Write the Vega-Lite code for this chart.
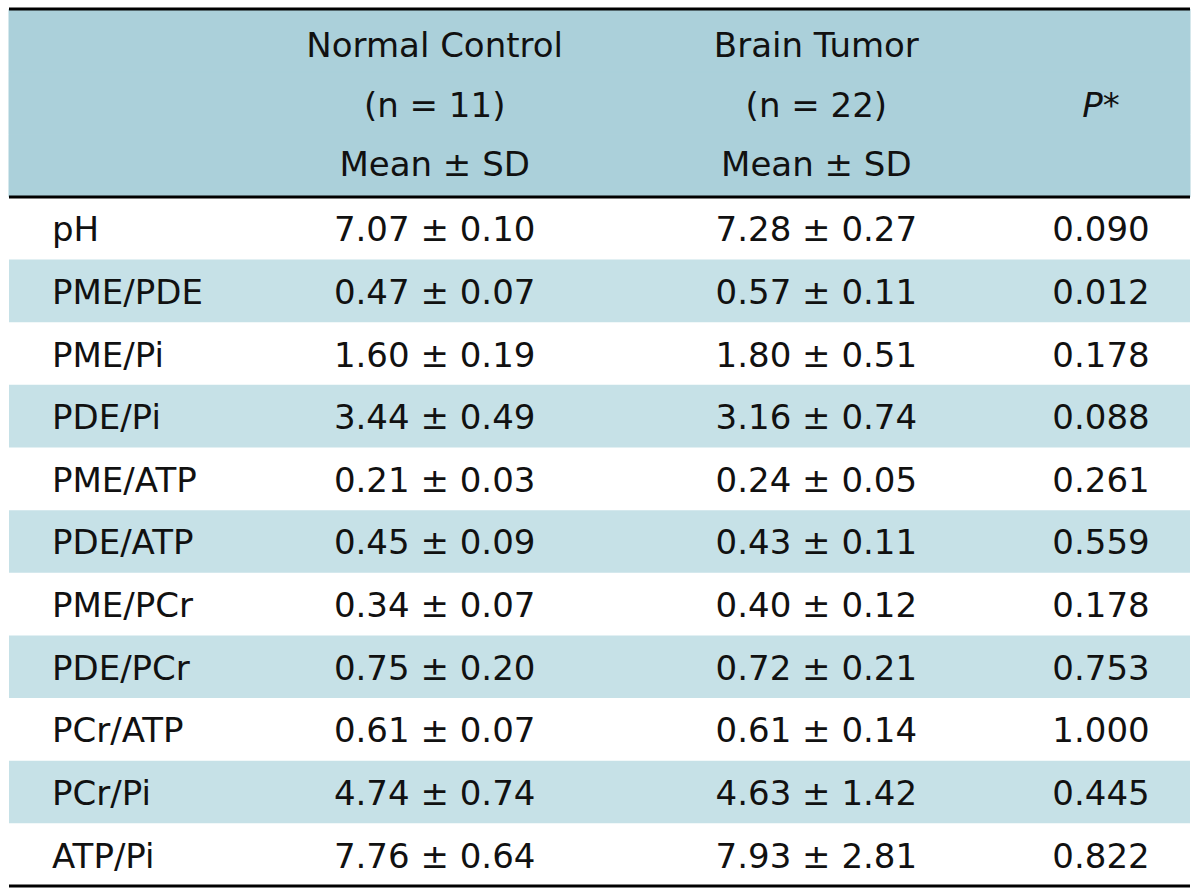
{
  "$schema": "https://vega.github.io/schema/vega-lite/v6.json",
  "width": 1181,
  "height": 877,
  "autosize": "none",
  "padding": {"left": 9, "top": 9, "right": 10, "bottom": 10},
  "background": "white",
  "config": {"view": {"stroke": null}, "text": {"font": "DejaVu Sans", "fontSize": 34, "color": "#111111"}},
  "datasets": {
    "body": [
      {"Variable": "pH", "Normal Control": "7.07 ± 0.10", "Brain Tumor": "7.28 ± 0.27", "P": "0.090"},
      {"Variable": "PME/PDE", "Normal Control": "0.47 ± 0.07", "Brain Tumor": "0.57 ± 0.11", "P": "0.012"},
      {"Variable": "PME/Pi", "Normal Control": "1.60 ± 0.19", "Brain Tumor": "1.80 ± 0.51", "P": "0.178"},
      {"Variable": "PDE/Pi", "Normal Control": "3.44 ± 0.49", "Brain Tumor": "3.16 ± 0.74", "P": "0.088"},
      {"Variable": "PME/ATP", "Normal Control": "0.21 ± 0.03", "Brain Tumor": "0.24 ± 0.05", "P": "0.261"},
      {"Variable": "PDE/ATP", "Normal Control": "0.45 ± 0.09", "Brain Tumor": "0.43 ± 0.11", "P": "0.559"},
      {"Variable": "PME/PCr", "Normal Control": "0.34 ± 0.07", "Brain Tumor": "0.40 ± 0.12", "P": "0.178"},
      {"Variable": "PDE/PCr", "Normal Control": "0.75 ± 0.20", "Brain Tumor": "0.72 ± 0.21", "P": "0.753"},
      {"Variable": "PCr/ATP", "Normal Control": "0.61 ± 0.07", "Brain Tumor": "0.61 ± 0.14", "P": "1.000"},
      {"Variable": "PCr/Pi", "Normal Control": "4.74 ± 0.74", "Brain Tumor": "4.63 ± 1.42", "P": "0.445"},
      {"Variable": "ATP/Pi", "Normal Control": "7.76 ± 0.64", "Brain Tumor": "7.93 ± 2.81", "P": "0.822"}
    ],
    "header": [
      {"r": "h1", "col": "Normal Control", "t": "Normal Control"},
      {"r": "h2", "col": "Normal Control", "t": "(n = 11)"},
      {"r": "h3", "col": "Normal Control", "t": "Mean ± SD"},
      {"r": "h1", "col": "Brain Tumor", "t": "Brain Tumor"},
      {"r": "h2", "col": "Brain Tumor", "t": "(n = 22)"},
      {"r": "h3", "col": "Brain Tumor", "t": "Mean ± SD"},
      {"r": "h2", "col": "P", "t": "P*"}
    ]
  },
  "layer": [
    {
      "data": {"values": [{"r": "h1"}, {"r": "h2"}, {"r": "h3"}]},
      "mark": {"type": "rect", "color": "#abd0da", "stroke": "#abd0da", "strokeWidth": 1},
      "encoding": {
        "y": {"field": "r", "type": "nominal", "axis": null,
              "scale": {"type": "band", "domain": ["h1","h2","h3","pH","PME/PDE","PME/Pi","PDE/Pi","PME/ATP","PDE/ATP","PME/PCr","PDE/PCr","PCr/ATP","PCr/Pi","ATP/Pi"], "paddingInner": 0, "paddingOuter": 0}}
      }
    },
    {
      "data": {"name": "body"},
      "transform": [
        {"window": [{"op": "row_number", "as": "i"}]},
        {"filter": "datum.i % 2 == 0"}
      ],
      "mark": {"type": "rect", "color": "#c6e1e7"},
      "encoding": {
        "y": {"field": "Variable", "type": "nominal", "axis": null}
      }
    },
    {
      "data": {"values": [{}]},
      "mark": {"type": "rule", "color": "#000000", "strokeWidth": 3},
      "encoding": {"y": {"datum": "h1", "type": "nominal", "bandPosition": 0}}
    },
    {
      "data": {"values": [{}]},
      "mark": {"type": "rule", "color": "#000000", "strokeWidth": 3},
      "encoding": {"y": {"datum": "pH", "type": "nominal", "bandPosition": 0}}
    },
    {
      "data": {"values": [{}]},
      "mark": {"type": "rule", "color": "#000000", "strokeWidth": 3},
      "encoding": {"y": {"datum": "ATP/Pi", "type": "nominal", "bandPosition": 1}}
    },
    {
      "data": {"name": "header"},
      "transform": [{"filter": "datum.col == 'Normal Control' && datum.r == 'h1'"}],
      "mark": {"type": "text", "align": "center", "baseline": "middle", "dy": 7, "dx": 33},
      "encoding": {
        "y": {"field": "r", "type": "nominal"},
        "x": {"field": "col", "type": "nominal", "axis": null,
              "scale": {"type": "point", "domain": ["Variable", "Normal Control", "Brain Tumor", "P"], "range": [43, 1092], "padding": 0}},
        "text": {"field": "t"}
      }
    },
    {
      "data": {"name": "header"},
      "transform": [{"filter": "datum.col == 'Normal Control' && datum.r == 'h2'"}],
      "mark": {"type": "text", "align": "center", "baseline": "middle", "dy": 4, "dx": 33},
      "encoding": {
        "y": {"field": "r", "type": "nominal"},
        "x": {"field": "col", "type": "nominal"},
        "text": {"field": "t"}
      }
    },
    {
      "data": {"name": "header"},
      "transform": [{"filter": "datum.col == 'Normal Control' && datum.r == 'h3'"}],
      "mark": {"type": "text", "align": "center", "baseline": "middle", "dy": 0, "dx": 33},
      "encoding": {
        "y": {"field": "r", "type": "nominal"},
        "x": {"field": "col", "type": "nominal"},
        "text": {"field": "t"}
      }
    },
    {
      "data": {"name": "header"},
      "transform": [{"filter": "datum.col == 'Brain Tumor' && datum.r == 'h1'"}],
      "mark": {"type": "text", "align": "center", "baseline": "middle", "dy": 7, "dx": 65},
      "encoding": {
        "y": {"field": "r", "type": "nominal"},
        "x": {"field": "col", "type": "nominal"},
        "text": {"field": "t"}
      }
    },
    {
      "data": {"name": "header"},
      "transform": [{"filter": "datum.col == 'Brain Tumor' && datum.r == 'h2'"}],
      "mark": {"type": "text", "align": "center", "baseline": "middle", "dy": 4, "dx": 65},
      "encoding": {
        "y": {"field": "r", "type": "nominal"},
        "x": {"field": "col", "type": "nominal"},
        "text": {"field": "t"}
      }
    },
    {
      "data": {"name": "header"},
      "transform": [{"filter": "datum.col == 'Brain Tumor' && datum.r == 'h3'"}],
      "mark": {"type": "text", "align": "center", "baseline": "middle", "dy": 0, "dx": 65},
      "encoding": {
        "y": {"field": "r", "type": "nominal"},
        "x": {"field": "col", "type": "nominal"},
        "text": {"field": "t"}
      }
    },
    {
      "data": {"name": "header"},
      "transform": [{"filter": "datum.col == 'P'"}],
      "mark": {"type": "text", "align": "center", "baseline": "middle", "dy": 4, "fontStyle": "italic"},
      "encoding": {
        "y": {"field": "r", "type": "nominal"},
        "x": {"field": "col", "type": "nominal"},
        "text": {"field": "t"}
      }
    },
    {
      "data": {"name": "body"},
      "mark": {"type": "text", "align": "left", "baseline": "middle", "dy": 3},
      "encoding": {
        "y": {"field": "Variable", "type": "nominal"},
        "x": {"datum": "Variable", "type": "nominal"},
        "text": {"field": "Variable"}
      }
    },
    {
      "data": {"name": "body"},
      "mark": {"type": "text", "align": "center", "baseline": "middle", "dy": 3, "dx": 33},
      "encoding": {
        "y": {"field": "Variable", "type": "nominal"},
        "x": {"datum": "Normal Control", "type": "nominal"},
        "text": {"field": "Normal Control"}
      }
    },
    {
      "data": {"name": "body"},
      "mark": {"type": "text", "align": "center", "baseline": "middle", "dy": 3, "dx": 65},
      "encoding": {
        "y": {"field": "Variable", "type": "nominal"},
        "x": {"datum": "Brain Tumor", "type": "nominal"},
        "text": {"field": "Brain Tumor"}
      }
    },
    {
      "data": {"name": "body"},
      "mark": {"type": "text", "align": "center", "baseline": "middle", "dy": 3},
      "encoding": {
        "y": {"field": "Variable", "type": "nominal"},
        "x": {"datum": "P", "type": "nominal"},
        "text": {"field": "P"}
      }
    }
  ]
}
